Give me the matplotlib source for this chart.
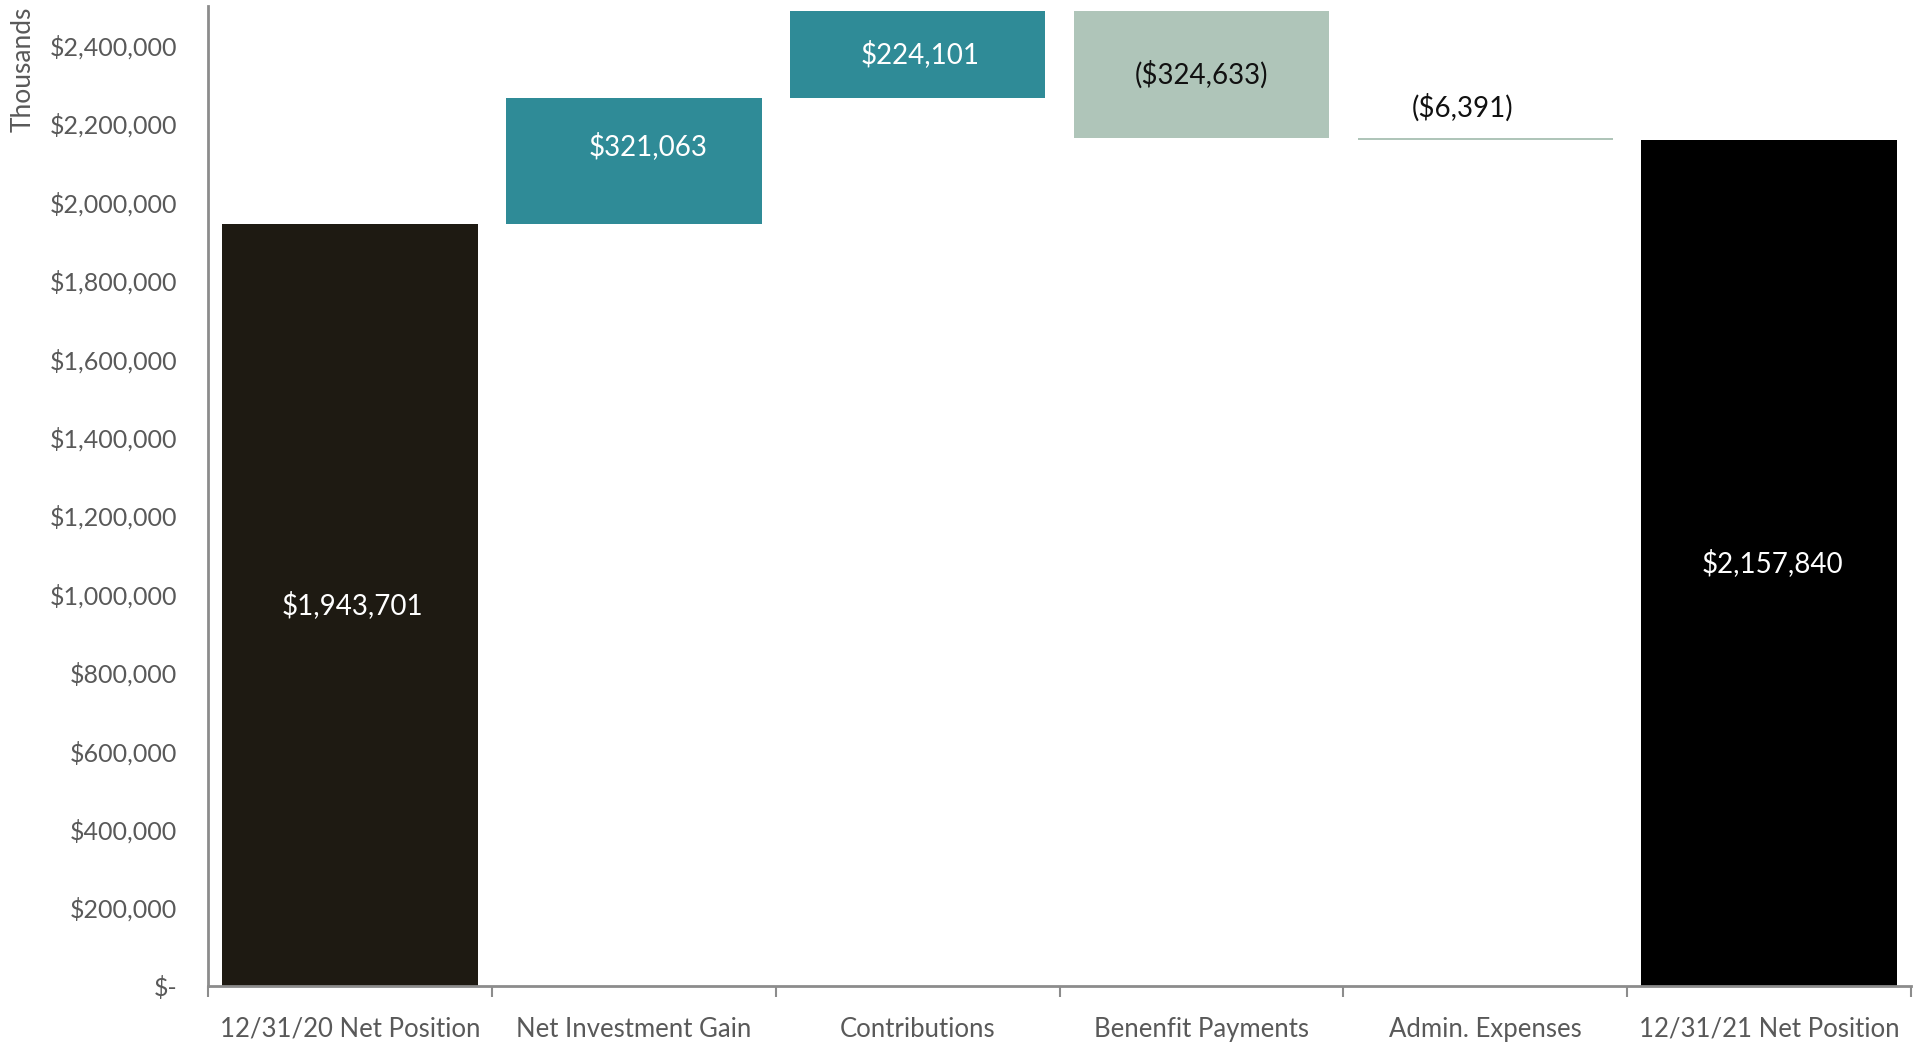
import numpy as np
import matplotlib
matplotlib.use("Agg")
from matplotlib import pyplot as plt
from matplotlib.ticker import FuncFormatter, MultipleLocator

plt.rcParams['font.family'] = ['Lato', 'DejaVu Sans']

categories = ["12/31/20 Net Position", "Net Investment Gain", "Contributions",
              "Benenfit Payments", "Admin. Expenses", "12/31/21 Net Position"]
changes = [1943701, 321063, 224101, -324633, -6391, 2157840]
is_total = [True, False, False, False, False, True]
labels = ["$1,943,701", "$321,063", "$224,101", "($324,633)", "($6,391)", "$2,157,840"]

colors = ["#1e1a12", "#2f8b97", "#2f8b97", "#afc5b9", "#afc5b9", "#000000"]
label_colors = ["white", "white", "white", "#111111", "#111111", "white"]
# small nudges of the data labels (x in category units, y as fraction of bar height)
label_dx = [0.01, 0.05, 0.01, 0.0, -0.08, 0.01]
label_dy = [0.0, 0.12, 0.0, 0.0, 0.0, 0.0]

# waterfall bottoms
bottoms = []
heights = []
running = 0
for c, tot in zip(changes, is_total):
    if tot:
        bottoms.append(0)
        heights.append(c)
        running = c
    else:
        if c >= 0:
            bottoms.append(running)
        else:
            bottoms.append(running + c)
        heights.append(abs(c))
        running += c

fig = plt.figure(figsize=(19.21, 10.43), dpi=100)
ax = fig.add_axes([0.1083, 0.0546, 0.8865, 0.9394])

x = np.arange(len(categories))
ax.bar(x, heights, bottom=bottoms, width=0.9, color=colors)

for i in range(len(x)):
    if heights[i] < 60000:
        ax.text(x[i] + label_dx[i], bottoms[i] + heights[i] + 40000, labels[i], ha='center', va='bottom',
                fontsize=20, color=label_colors[i])
    else:
        ax.text(x[i] + label_dx[i], bottoms[i] + heights[i] * (0.5 + label_dy[i]), labels[i],
                ha='center', va='center', fontsize=20, color=label_colors[i])

ax.set_xlim(-0.5, len(x) - 0.5)
ax.set_ylim(0, 2500000)
ax.yaxis.set_major_locator(MultipleLocator(200000))
ax.yaxis.set_major_formatter(FuncFormatter(lambda v, p: "$-" if v == 0 else "${:,.0f}".format(v)))

ax.set_xticks(x)
ax.set_xticklabels(categories)
ax.set_xticks(np.arange(-0.5, len(x)), minor=True)
ax.tick_params(axis='x', which='major', length=0, pad=22, labelsize=18.5, labelcolor='#595959')
ax.tick_params(axis='x', which='minor', length=8, width=1.5, color='#8c8c8c')
ax.tick_params(axis='y', length=0, pad=22, labelsize=18, labelcolor='#595959')

for s in ['top', 'right']:
    ax.spines[s].set_visible(False)
for s in ['left', 'bottom']:
    ax.spines[s].set_color('#8c8c8c')
    ax.spines[s].set_linewidth(2)

fig.text(0.012, 0.994, "Thousands", rotation=90, ha='center', va='top', fontsize=19, color='#595959')

fig.savefig("out.png", dpi=100)
